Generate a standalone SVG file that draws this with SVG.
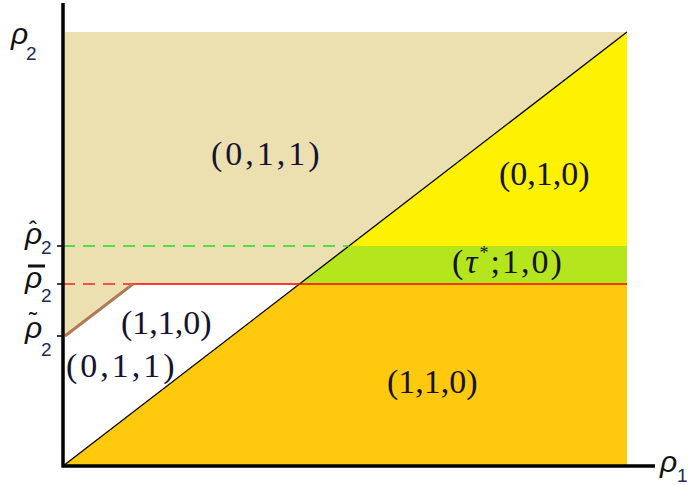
<svg xmlns="http://www.w3.org/2000/svg" width="690" height="485" viewBox="0 0 690 485">
<style>
.t{font-family:"Liberation Serif","Times New Roman",serif;font-size:34px;fill:#141432}
.w{letter-spacing:3px}
.r{font-family:"Liberation Sans",Arial,sans-serif;font-style:italic;font-size:30px;fill:#111}
.s{font-family:"Liberation Sans",Arial,sans-serif;font-style:normal;font-size:19px;fill:#1a2a5a}
.a{font-style:normal;font-size:24px}
.ax{stroke:#000;stroke-width:3.5;fill:none}
</style>
<rect width="690" height="485" fill="#fff"/>
<g id="regions">
<polygon id="beige" points="65,32 627,32 65,466" fill="#EDE0B0"/>
<polygon id="white" points="65,336 133,284 299.5,284 65,464.5" fill="#fff"/>
<polygon id="yellow" points="349,246 627,32 627,246" fill="#FFF200"/>
<polygon id="green" points="299.5,284 349,246 627,246 627,284" fill="#B5E61D"/>
<polygon id="orange" points="63,466 299.5,284 627,284 627,466" fill="#FFC90E"/>
</g>
<g id="connectors">
<line x1="63" y1="466" x2="627" y2="32" stroke="#000" stroke-width="1.3"/>
<line x1="63" y1="246" x2="349" y2="246" stroke="#22DD22" stroke-width="1.5" stroke-dasharray="12,8"/>
<line x1="63" y1="284" x2="133" y2="284" stroke="#FF2222" stroke-width="1.5" stroke-dasharray="12,8"/>
<line x1="133" y1="284" x2="627" y2="284" stroke="#FF0000" stroke-width="1.5"/>
<line x1="65" y1="336" x2="133" y2="284" stroke="#B07A55" stroke-width="3"/>
<line x1="57" y1="246" x2="63" y2="246" stroke="#000" stroke-width="1.5"/>
<line x1="57" y1="284" x2="63" y2="284" stroke="#000" stroke-width="1.5"/>
<line x1="57" y1="336" x2="63" y2="336" stroke="#000" stroke-width="1.5"/>
<polyline class="ax" points="63,3 63,466 655,466"/>
</g>
<g id="axis-labels">
<text class="r" x="11" y="44">ρ<tspan class="s" x="26" y="60">2</tspan></text>
<text class="r" x="25" y="244">ρ<tspan class="a" x="29" y="238">ˆ</tspan><tspan class="s" x="41" y="254">2</tspan></text>
<rect x="28" y="264.5" width="17" height="3" fill="#111"/>
<text class="r" x="25" y="288">ρ<tspan class="s" x="41" y="302">2</tspan></text>
<text class="r" x="25" y="338">ρ<tspan class="a" x="29" y="329">˜</tspan><tspan class="s" x="41" y="356">2</tspan></text>
<text class="r" x="660" y="472">ρ<tspan class="s" x="677" y="482">1</tspan></text>
</g>
<g id="labels">
<text class="t w" x="211" y="165">(0,1,1)</text>
<text class="t" x="499" y="185">(0,1,0)</text>
<text class="t" x="452" y="273" style="letter-spacing:2px">(<tspan font-style="italic">τ</tspan><tspan font-size="18" dy="-14">*</tspan><tspan dy="14">;1,0)</tspan></text>
<text class="t" x="121" y="334">(1,1,0)</text>
<text class="t w" x="66" y="377">(0,1,1)</text>
<text class="t" x="387" y="393">(1,1,0)</text>
</g>
</svg>
